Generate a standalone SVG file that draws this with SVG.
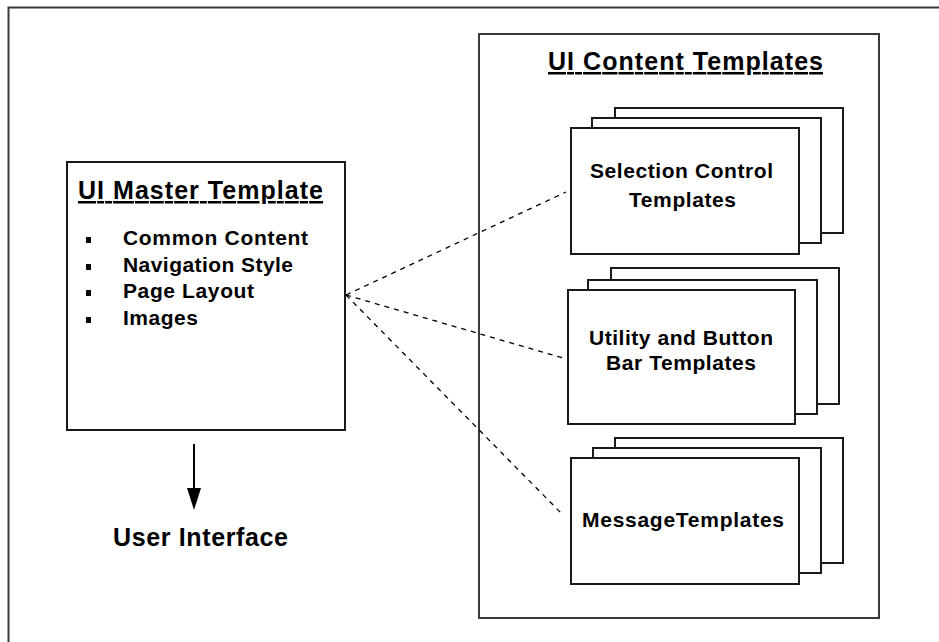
<svg xmlns="http://www.w3.org/2000/svg" width="939" height="642" viewBox="0 0 939 642">
<defs>
<style>
.frame{fill:none;stroke:#3a3a3a;stroke-width:2}
.box{fill:#fff;stroke:#1a1a1a;stroke-width:2}
.t{font-family:"Liberation Sans",Arial,sans-serif;font-weight:bold;fill:#000}
.title{font-size:25px;text-decoration:underline}
.lbl{font-size:21px}
.item{font-size:21px}
.dash{fill:none;stroke:#000;stroke-width:1.3;stroke-dasharray:5 5}
</style>
</defs>
<rect width="939" height="642" fill="#fff"/>
<g id="outer-frame">
<rect class="frame" x="8.5" y="7.5" width="945" height="650"/>
</g>
<g id="ui-content-templates">
<rect class="frame" x="479" y="34" width="400" height="584"/>
<text class="t title" x="548" y="70" textLength="275" lengthAdjust="spacing">UI Content Templates</text>
</g>
<g id="ui-master-template">
<rect class="box" x="67" y="162" width="278" height="268"/>
<text class="t title" x="78" y="199" textLength="245" lengthAdjust="spacing">UI Master Template</text>
<rect x="86" y="237" width="5" height="6" fill="#000"/>
<rect x="86" y="264" width="5" height="6" fill="#000"/>
<rect x="86" y="290" width="5" height="6" fill="#000"/>
<rect x="86" y="317" width="5" height="6" fill="#000"/>
<text class="t item" x="123" y="245" textLength="185" lengthAdjust="spacing">Common Content</text>
<text class="t item" x="123" y="272" textLength="170" lengthAdjust="spacing">Navigation Style</text>
<text class="t item" x="123" y="298" textLength="131" lengthAdjust="spacing">Page Layout</text>
<text class="t item" x="123" y="325" textLength="75" lengthAdjust="spacing">Images</text>
</g>
<g id="user-interface">
<text class="t" x="113" y="546" font-size="25" textLength="175" lengthAdjust="spacing">User Interface</text>
</g>
<g id="selection-control-templates">
<rect class="box" x="615" y="108" width="228" height="125"/>
<rect class="box" x="592" y="118" width="229" height="125"/>
<rect class="box" x="571" y="128" width="228" height="126"/>
<text class="t lbl" x="590" y="178" textLength="183" lengthAdjust="spacing">Selection Control</text>
<text class="t lbl" x="629" y="207" textLength="107" lengthAdjust="spacing">Templates</text>
</g>
<g id="utility-button-bar-templates">
<rect class="box" x="611" y="268" width="228" height="136"/>
<rect class="box" x="588" y="280" width="229" height="134"/>
<rect class="box" x="568" y="290" width="227" height="134"/>
<text class="t lbl" x="589" y="345" textLength="184" lengthAdjust="spacing">Utility and Button</text>
<text class="t lbl" x="606" y="370" textLength="150" lengthAdjust="spacing">Bar Templates</text>
</g>
<g id="message-templates">
<rect class="box" x="615" y="438" width="228" height="125"/>
<rect class="box" x="593" y="448" width="228" height="125"/>
<rect class="box" x="571" y="458" width="228" height="126"/>
<text class="t lbl" x="582" y="527" textLength="202" lengthAdjust="spacing">MessageTemplates</text>
</g>
<g id="connectors">
<path class="dash" d="M346,295 L566,192"/>
<path class="dash" d="M346,295 L563,358"/>
<path class="dash" d="M346,295 L563,515"/>
<line x1="194" y1="444" x2="194" y2="490" stroke="#000" stroke-width="2"/>
<polygon points="187,488 201,488 194,510" fill="#000"/>
</g>
</svg>
